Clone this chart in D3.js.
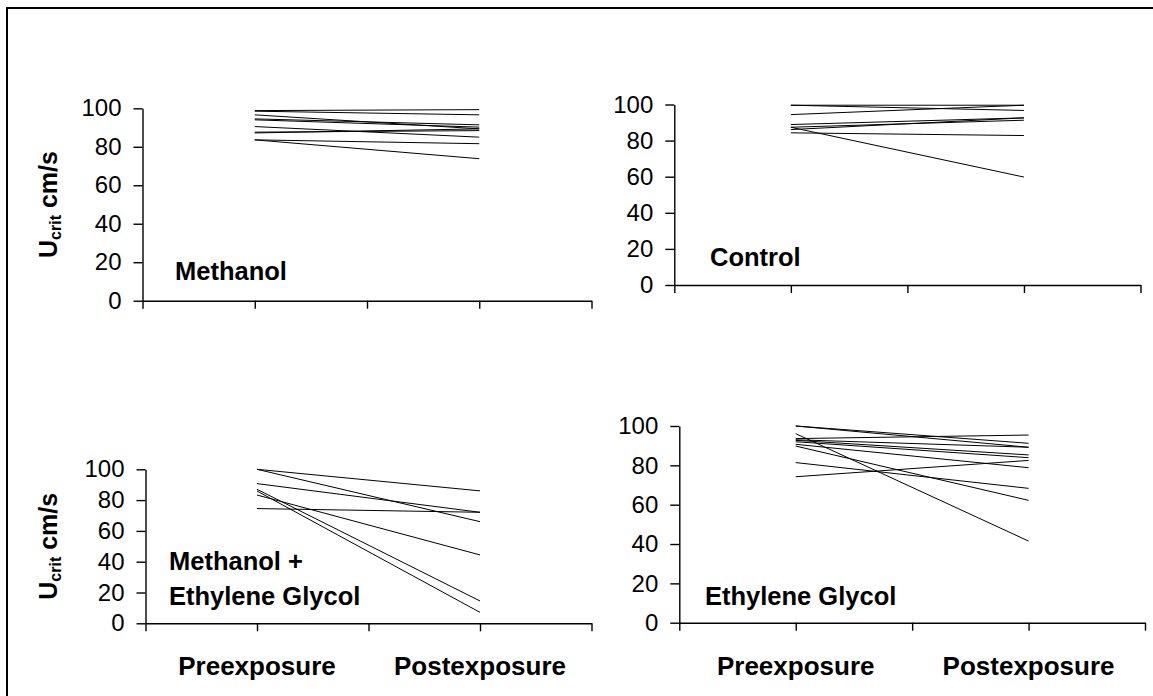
<!DOCTYPE html>
<html>
<head>
<meta charset="utf-8">
<script src="https://cdn.jsdelivr.net/npm/d3@7"></script>
<style>
  html, body { margin: 0; padding: 0; background: #fff; }
  svg { display: block; font-family: "Liberation Sans", Arial, sans-serif; }
</style>
</head>
<body>
<svg id="chart" width="1153" height="696"></svg>
<script>
// ---- data ----
const categories = ["Preexposure", "Postexposure"];
const yTicks = [0, 20, 40, 60, 80, 100];
const yLabelMain = "U";
const yLabelSub = "crit";
const yLabelUnit = " cm/s";

const methanolPre  = [98.8, 98.5, 96.6, 94.5, 94.0, 90.5, 87.6, 87.2, 83.6, 83.6];
const methanolPost = [99.3, 96.6, 89.3, 91.4, 90.2, 85.0, 88.4, 89.3, 81.6, 73.8];

const controlPre  = [99.6, 99.6, 94.4, 88.9, 87.4, 86.1, 87.4, 84.3];
const controlPost = [99.6, 96.7, 99.6, 92.6, 91.3, 92.6, 59.8, 82.8];

const mixPre  = [100, 100, 90.7, 74.5, 87.0, 85.9, 83.3];
const mixPost = [86.0, 66.0, 72.1, 72.1, 14.5, 7.1, 44.4];

const glycolPre  = [100, 100, 96.1, 93.6, 93.0, 92.7, 92.0, 90.7, 89.8, 81.4, 74.2];
const glycolPost = [91.2, 89.2, 41.5, 95.4, 89.2, 85.3, 83.9, 78.8, 62.2, 68.3, 82.5];

// ---- layout ----
const panels = [
  { name: ["Methanol"], pre: methanolPre, post: methanolPost,
    x0: 142.5, x1: 591.5, yTop: 108.3, yBot: 300.7, ylabel: true, xlabels: false,
    lx: 175, ly: [280] },
  { name: ["Control"], pre: controlPre, post: controlPost,
    x0: 674.3, x1: 1140.5, yTop: 104.5, yBot: 285, ylabel: false, xlabels: false,
    lx: 710, ly: [266] },
  { name: ["Methanol +", "Ethylene Glycol"], pre: mixPre, post: mixPost,
    x0: 145.5, x1: 591.5, yTop: 469.3, yBot: 623.3, ylabel: true, xlabels: true,
    lx: 169, ly: [570, 605] },
  { name: ["Ethylene Glycol"], pre: glycolPre, post: glycolPost,
    x0: 679.3, x1: 1145, yTop: 426, yBot: 622.7, ylabel: false, xlabels: true,
    lx: 705, ly: [605] }
];

const svg = d3.select("#chart");

// outer frame
svg.append("rect")
  .attr("x", 7).attr("y", 8).attr("width", 1152).attr("height", 694)
  .attr("fill", "none").attr("stroke", "#000").attr("stroke-width", 2);

panels.forEach(p => {
  const x = d3.scaleLinear().domain([0, 4]).range([p.x0, p.x1]);
  const y = d3.scaleLinear().domain([0, 100]).range([p.yBot, p.yTop]);
  const g = svg.append("g");

  // x axis
  const xa = g.append("g")
    .attr("transform", `translate(0,${p.yBot})`)
    .call(d3.axisBottom(x).tickValues([0, 1, 2, 3, 4]).tickSize(8).tickSizeOuter(0).tickFormat(""));
  // y axis
  const ya = g.append("g")
    .attr("transform", `translate(${p.x0},0)`)
    .call(d3.axisLeft(y).tickValues(yTicks).tickSize(9).tickSizeOuter(0).tickPadding(12));
  [xa, ya].forEach(a => {
    a.selectAll("path, line").attr("stroke", "#000").attr("stroke-width", 1.4);
  });
  ya.selectAll("text").attr("font-size", 24).attr("fill", "#000")
    .attr("font-family", "'Liberation Sans', Arial, sans-serif");

  // lines
  const line = d3.line().x(d => x(d[0])).y(d => y(d[1]));
  const pairs = p.pre.map((v, i) => [[1, v], [3, p.post[i]]]);
  g.selectAll("path.subject").data(pairs).join("path")
    .attr("class", "subject")
    .attr("d", line)
    .attr("fill", "none").attr("stroke", "#000").attr("stroke-width", 1);

  // panel label
  p.name.forEach((t, i) => {
    g.append("text").attr("x", p.lx).attr("y", p.ly[i])
      .attr("font-size", 25.5).attr("font-weight", "bold").attr("fill", "#000").text(t);
  });

  // category labels
  if (p.xlabels) {
    categories.forEach((c, i) => {
      g.append("text").attr("x", x(i === 0 ? 1 : 3)).attr("y", 675)
        .attr("text-anchor", "middle").attr("font-size", 26).attr("font-weight", "bold")
        .attr("fill", "#000").text(c);
    });
  }

  // y label
  if (p.ylabel) {
    const cy = (p.yTop + p.yBot) / 2;
    const t = g.append("text")
      .attr("transform", `translate(57,${cy}) rotate(-90)`)
      .attr("text-anchor", "middle").attr("font-weight", "bold").attr("fill", "#000")
      .attr("font-size", 25);
    t.append("tspan").text(yLabelMain);
    t.append("tspan").attr("font-size", 16).attr("dy", 4).text(yLabelSub);
    t.append("tspan").attr("dy", -4).text(yLabelUnit);
  }
});
</script>
</body>
</html>
